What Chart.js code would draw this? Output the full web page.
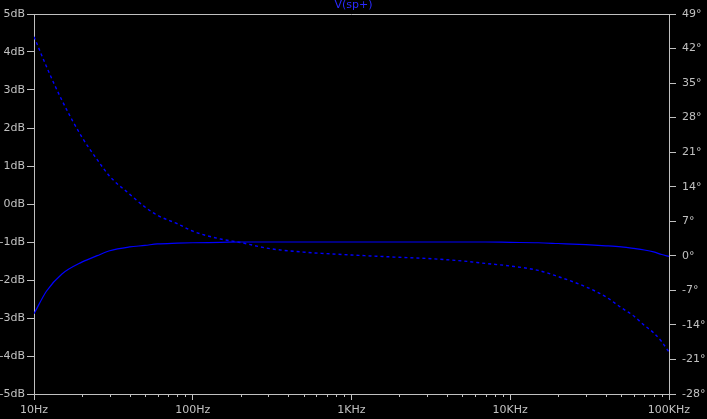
<!DOCTYPE html>
<html>
<head>
  <title>V(sp+)</title>
  <script src="https://cdn.jsdelivr.net/npm/chart.js"></script>
  <style>
    html, body { margin: 0; padding: 0; background: #000; }
    #wrap { width: 707px; height: 419px; }
  </style>
</head>
<body>
<div id="wrap"><canvas id="bode" width="707" height="419"></canvas></div>
<script>
  // values
  const freqs = [10, 12, 15, 20, 25, 30, 40, 50, 60, 80, 100, 150, 200, 300, 500, 700,
    1000, 2000, 3000, 5000, 7000, 10000, 15000, 20000, 30000, 40000, 50000, 60000,
    70000, 80000, 90000, 100000];
  const magDb = [-2.89, -2.29, -1.84, -1.53, -1.36, -1.23, -1.13, -1.09, -1.05, -1.03,
    -1.02, -1.01, -1.0, -1.0, -1.0, -1.0, -1.0, -1.0, -1.0, -1.0, -1.0, -1.01, -1.02,
    -1.04, -1.07, -1.1, -1.13, -1.17, -1.21, -1.26, -1.33, -1.38];
  const phaseDeg = [44.4, 38.3, 31.5, 24.1, 19.5, 16.1, 12.5, 9.9, 8.2, 6.5, 5.0, 3.4,
    2.7, 1.5, 0.74, 0.44, 0.17, -0.3, -0.54, -1.04, -1.55, -2.06, -2.95, -4.2, -6.3,
    -8.3, -10.5, -12.2, -14.1, -15.6, -17.4, -19.5];

  const xTickValues = [10, 100, 1000, 10000, 100000];
  const xTickLabels = ['10Hz', '100Hz', '1KHz', '10KHz', '100KHz'];
  const minorFactors = [2, 3, 4, 5, 6, 7, 8, 9];

  const AXIS = '#c0c0c0';
  const TRACE = '#0000ff';
  const tickFont = { family: 'DejaVu Sans, sans-serif', size: 11 };

  const blackBg = {
    id: 'blackBg',
    beforeDraw(chart) {
      const c = chart.ctx;
      c.save();
      c.fillStyle = '#000';
      c.fillRect(0, 0, chart.width, chart.height);
      c.restore();
    }
  };

  // top edge of the frame + short minor ticks on the frequency axis
  const frame = {
    id: 'frame',
    afterDraw(chart) {
      const c = chart.ctx;
      const a = chart.chartArea;
      const xs = chart.scales.x;
      c.save();
      c.strokeStyle = AXIS;
      c.lineWidth = 1;
      c.beginPath();
      c.moveTo(a.left, a.top + 0.5);
      c.lineTo(a.right, a.top + 0.5);
      xTickValues.slice(0, -1).forEach(dec => {
        minorFactors.forEach(m => {
          const px = Math.round(xs.getPixelForValue(dec * m)) + 0.5;
          c.moveTo(px, a.bottom);
          c.lineTo(px, a.bottom + 3);
        });
      });
      c.stroke();
      c.restore();
    }
  };

  new Chart(document.getElementById('bode').getContext('2d'), {
    type: 'line',
    data: {
      datasets: [
        {
          label: 'magnitude',
          data: freqs.map((f, i) => ({ x: f, y: magDb[i] })),
          yAxisID: 'y',
          borderColor: TRACE,
          borderWidth: 1.2,
          pointRadius: 0,
          cubicInterpolationMode: 'monotone'
        },
        {
          label: 'phase',
          data: freqs.map((f, i) => ({ x: f, y: phaseDeg[i] })),
          yAxisID: 'y1',
          borderColor: TRACE,
          borderWidth: 1.4,
          borderDash: [3, 3],
          pointRadius: 0,
          cubicInterpolationMode: 'monotone'
        }
      ]
    },
    options: {
      responsive: false,
      animation: false,
      layout: { padding: 0 },
      plugins: {
        legend: { display: false },
        tooltip: { enabled: false },
        title: {
          display: true,
          text: 'V(sp+)',
          color: '#2a2aff',
          font: { family: 'DejaVu Sans, sans-serif', size: 11, weight: 'normal', lineHeight: 1 },
          padding: { top: 0, bottom: 3 }
        }
      },
      scales: {
        x: {
          type: 'logarithmic',
          min: 10,
          max: 100000,
          afterBuildTicks: s => { s.ticks = xTickValues.map(v => ({ value: v })); },
          afterFit: s => { s.height = 25; },
          ticks: {
            color: AXIS,
            font: tickFont,
            padding: 4,
            autoSkip: false,
            maxRotation: 0,
            callback: v => xTickLabels[xTickValues.indexOf(v)]
          },
          grid: { drawOnChartArea: false, drawTicks: true, tickLength: 6, tickColor: AXIS },
          border: { color: AXIS }
        },
        y: {
          position: 'left',
          min: -5,
          max: 5,
          afterFit: s => { s.width = 34; },
          ticks: { stepSize: 1, color: AXIS, font: tickFont, padding: 2, callback: v => v + 'dB' },
          grid: { drawOnChartArea: false, drawTicks: true, tickLength: 7, tickColor: AXIS },
          border: { color: AXIS }
        },
        y1: {
          position: 'right',
          min: -28,
          max: 49,
          afterFit: s => { s.width = 38; },
          ticks: { stepSize: 7, color: AXIS, font: tickFont, padding: 6, callback: v => v + '°' },
          grid: { drawOnChartArea: false, drawTicks: true, tickLength: 7, tickColor: AXIS },
          border: { color: AXIS }
        }
      }
    },
    plugins: [blackBg, frame]
  });
</script>
</body>
</html>
